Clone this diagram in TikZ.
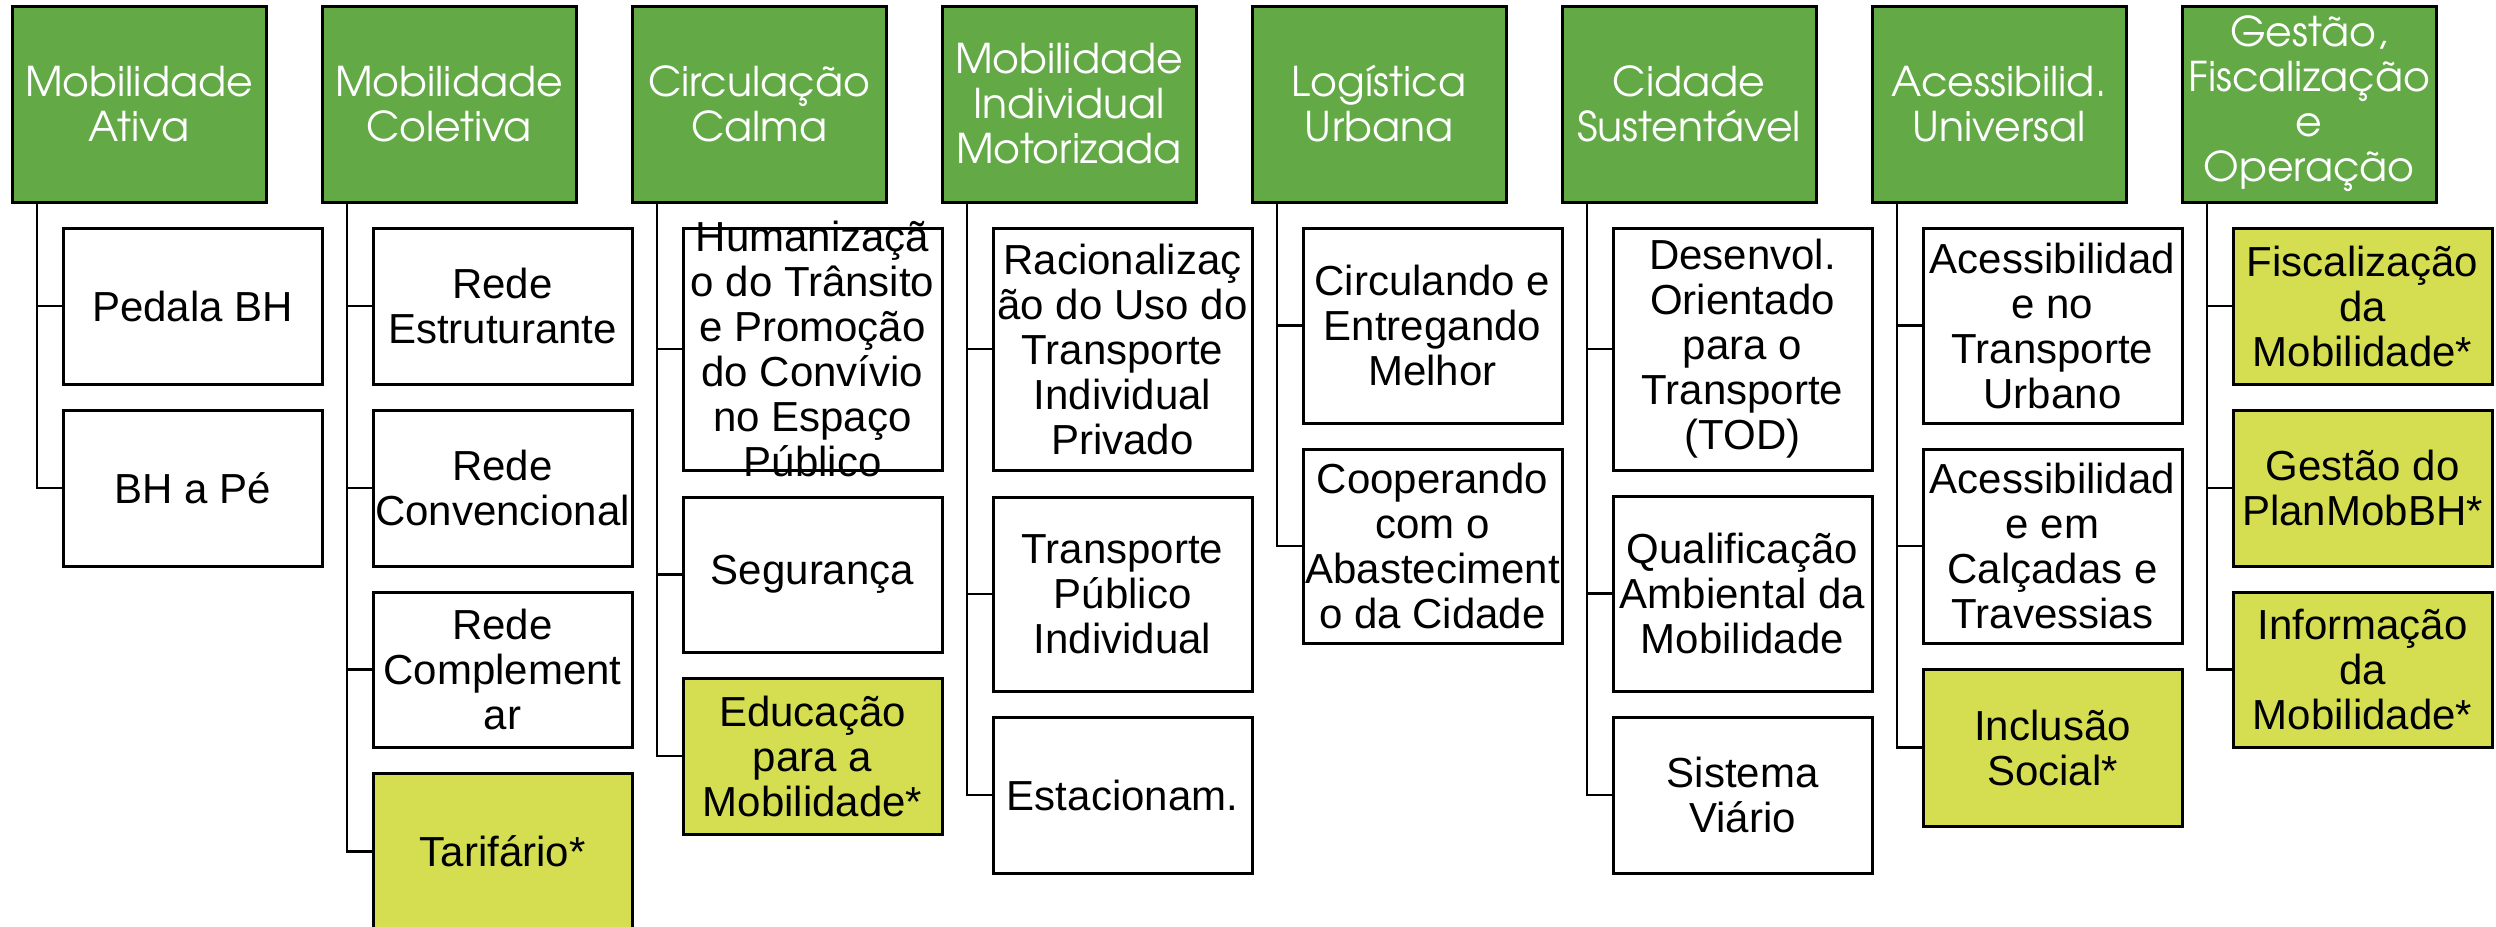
\documentclass[tikz,border=0pt]{standalone}
\usepackage{fontspec}
\setmainfont{Liberation Sans}
\newfontfamily\gothic{TeX Gyre Adventor}
\definecolor{hdrgreen}{RGB}{99,170,71}
\definecolor{limefill}{RGB}{212,222,80}
\tikzset{
  hbox/.style={draw=black, fill=hdrgreen, line width=3pt, anchor=north west,
    minimum width=254pt, minimum height=196pt, inner sep=0pt, outer sep=0pt},
  htext/.style={text=white, align=center, font=\gothic\fontsize{41}{45}\selectfont, inner sep=0pt},
  cbox/.style={draw=black, fill=white, line width=3pt, anchor=north west,
    minimum width=259pt, inner sep=0pt, outer sep=0pt},
  ybox/.style={cbox, fill=limefill},
  ctext/.style={text=black, align=center, font=\fontsize{42}{45}\selectfont, inner sep=0pt},
  link/.style={draw=black, line width=2.5pt},
}
\newcommand\Hd[3]{\node[hbox] (#1) at (#2,6) {}; \node[htext] (#1t) at (#1.center) {#3};}
\newcommand\Ch[6]{\node[#5, minimum height=#4pt] (#1) at (#2,#3) {}; \node[ctext] (#1t) at (#1.center) {#6};}
\newcommand\Ln[2]{\draw[link] ([xshift=25pt]#1.south west) |- (#2.west);}
\begin{document}
\begin{tikzpicture}[x=1pt,y=-1pt]
\useasboundingbox (0,0) rectangle (2496,926);
% headers
\Hd{h1}{12}{Mobilidade\\Ativa}
\Hd{h2}{322}{Mobilidade\\Coletiva}
\Hd{h3}{632}{Circulação\\Calma}
\Hd{h4}{942}{Mobilidade\\Individual\\Motorizada}
\Hd{h5}{1252}{Logística\\Urbana}
\Hd{h6}{1562}{Cidade\\Sustentável}
\Hd{h7}{1872}{Acessibilid.\\Universal}
\Hd{h8}{2182}{Gestão,\\Fiscalização\\e\\Operação}
% column 1
\Ch{a1}{63}{228}{156}{cbox}{Pedala BH}
\Ch{a2}{63}{410}{156}{cbox}{BH a Pé}
% column 2
\Ch{b1}{373}{228}{156}{cbox}{Rede\\Estruturante}
\Ch{b2}{373}{410}{156}{cbox}{Rede\\Convencional}
\Ch{b3}{373}{592}{155}{cbox}{Rede\\Complement\\ar}
\Ch{b4}{373}{773}{157}{ybox}{Tarifário*}
% column 3
\Ch{c1}{683}{228}{242}{cbox}{Humanizaçã\\o do Trânsito\\e Promoção\\do Convívio\\no Espaço\\Público}
\Ch{c2}{683}{497}{155}{cbox}{Segurança}
\Ch{c3}{683}{678}{156}{ybox}{Educação\\para a\\Mobilidade*}
% column 4
\Ch{d1}{993}{228}{242}{cbox}{Racionalizaç\\ão do Uso do\\Transporte\\Individual\\Privado}
\Ch{d2}{993}{497}{194}{cbox}{Transporte\\Público\\Individual}
\Ch{d3}{993}{717}{156}{cbox}{Estacionam.}
% column 5
\Ch{e1}{1303}{228}{195}{cbox}{Circulando e\\Entregando\\Melhor}
\Ch{e2}{1303}{449}{194}{cbox}{Cooperando\\com o\\Abasteciment\\o da Cidade}
% column 6
\Ch{f1}{1613}{228}{242}{cbox}{Desenvol.\\Orientado\\para o\\Transporte\\(TOD)}
\Ch{f2}{1613}{496}{195}{cbox}{Qualificação\\Ambiental da\\Mobilidade}
\Ch{f3}{1613}{717}{156}{cbox}{Sistema\\Viário}
% column 7
\Ch{g1}{1923}{228}{195}{cbox}{Acessibilidad\\e no\\Transporte\\Urbano}
\Ch{g2}{1923}{449}{194}{cbox}{Acessibilidad\\e em\\Calçadas e\\Travessias}
\Ch{g3}{1923}{669}{157}{ybox}{Inclusão\\Social*}
% column 8
\Ch{k1}{2233}{228}{156}{ybox}{Fiscalização\\da\\Mobilidade*}
\Ch{k2}{2233}{410}{156}{ybox}{Gestão do\\PlanMobBH*}
\Ch{k3}{2233}{592}{155}{ybox}{Informação\\da\\Mobilidade*}
% connectors
\Ln{h1}{a1}\Ln{h1}{a2}
\Ln{h2}{b1}\Ln{h2}{b2}\Ln{h2}{b3}\Ln{h2}{b4}
\Ln{h3}{c1}\Ln{h3}{c2}\Ln{h3}{c3}
\Ln{h4}{d1}\Ln{h4}{d2}\Ln{h4}{d3}
\Ln{h5}{e1}\Ln{h5}{e2}
\Ln{h6}{f1}\Ln{h6}{f2}\Ln{h6}{f3}
\Ln{h7}{g1}\Ln{h7}{g2}\Ln{h7}{g3}
\Ln{h8}{k1}\Ln{h8}{k2}\Ln{h8}{k3}
\end{tikzpicture}
\end{document}
